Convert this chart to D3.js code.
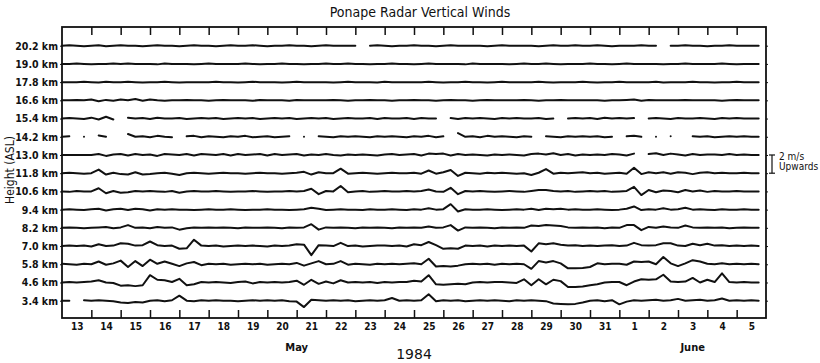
<!DOCTYPE html>
<html>
<head>
<meta charset="utf-8">
<script src="https://cdn.jsdelivr.net/npm/d3@7"></script>
<style>
  body { margin: 0; background: #fff; }
  text { fill: #111; font-family: "Liberation Sans Narrow", "DejaVu Sans Condensed", sans-serif; }
</style>
</head>
<body>
<div id="chart"></div>
<script>
// Heights of the radar range gates (km, ASL), top to bottom
const heights = [20.2, 19.0, 17.8, 16.6, 15.4, 14.2, 13.0, 11.8, 10.6, 9.4, 8.2, 7.0, 5.8, 4.6, 3.4];

// Day labels along the bottom (13 May .. 5 June 1984)
const dayLabels = ["13","14","15","16","17","18","19","20","21","22","23","24","25","26","27","28","29","30","31","1","2","3","4","5"];
const monthLabels = [{ name: "May", day: "1984-05-21T00:00Z" }, { name: "June", day: "1984-06-03T12:00Z" }];
const yearLabel = "1984";

const startDate = new Date(Date.UTC(1984, 4, 13));
const endDate = new Date(Date.UTC(1984, 5, 6));
const hoursPerSample = 6;

// Vertical wind (m/s, upward positive), one value every 6 h, null = no data
const w20_2 = [0,.05,0,-.05, 0,.05,-.05,0, .05,0,0,-.05, 0,.05,0,0, -.05,0,.05,0, 0,-.05,0,.05, 0,0,.05,0, -.05,0,0,.05,
  0,0,-.05,0, .05,0,0,0, 0,null,0,.05, 0,-.05,0,0, .05,0,0,-.05, 0,.05,0,0, 0,0,-.05,0, .05,0,0,0,
  0,-.05,0,.05, 0,0,.05,0, 0,.05,0,-.05, 0,0,0,.05, 0,0,null,0, 0,.05,0,0, -.05,0,0,.05, 0,0,0,0];
const w19_0 = [0,0,.05,0, -.05,0,0,.05, 0,.05,0,0, 0,-.05,.05,0, 0,0,-.05,0, .05,0,0,0, 0,.05,0,-.05, 0,0,.05,0,
  0,-.05,0,0, .05,0,0,.05, 0,0,-.05,0, 0,.05,0,0, -.05,0,.05,0, 0,0,0,-.05, .05,0,0,0, 0,-.05,0,.05,
  0,0,.05,0, -.05,0,0,0, .05,0,0,-.05, 0,.05,0,0, 0,0,-.05,0, 0,.05,0,0, 0,0,.05,0, -.05,0,0,0];
const w17_8 = [0,0,0,.05, 0,-.05,.05,0, 0,.05,0,-.05, 0,0,.05,0, -.05,0,0,0, 0,.05,0,0, -.05,0,.05,0, 0,0,-.05,0,
  .05,0,0,0, 0,-.05,0,.05, 0,0,0,-.05, .05,0,0,0, 0,0,.05,0, -.05,0,0,.05, 0,0,-.05,0, .05,0,0,0,
  0,.05,0,-.05, 0,0,0,.05, 0,-.05,0,0, .05,0,0,0, 0,.05,-.05,0, 0,0,.05,0, 0,-.05,0,0, .05,0,0,0];
const w16_6 = [0,0,.05,0, .1,-.1,.05,-.05, .1,0,.15,-.05, .1,0,-.05,0, 0,.05,0,0, -.05,0,.05,0, 0,0,-.05,.05, 0,0,0,-.05,
  .05,0,0,0, 0,.05,0,-.05, 0,0,.05,0, 0,-.05,0,0, .05,0,0,-.05, 0,.05,0,0, -.05,0,.05,0, 0,0,0,.05,
  0,-.05,0,0, .05,0,0,0, 0,0,-.05,0, 0,.05,.1,-.05, .05,0,0,0, 0,.05,0,0, 0,0,-.05,0, .05,0,0,0];
const w15_4 = [0,.05,0,-.05, .1,-.1,.2,-.1, null,.1,0,.05, -.05,.1,0,0, .05,-.05,0,.05, 0,.05,-.05,0, .05,0,.05,-.05, 0,.05,0,.05,
  -.05,0,.05,0, .05,-.05,0,.05, 0,0,.05,-.05, .05,0,0,.05, -.05,.05,0,0, null,.05,-.05,.05, 0,.05,0,-.05, .05,0,.05,0,
  0,.05,-.05,0, null,0,.05,0, .05,-.05,.1,0, .05,0,.05,null, 0,.05,0,-.05, .05,0,0,.05, 0,-.05,.05,0, .05,0,0,0];
const w14_2 = [0,.05,null,0, null,.15,0,null, null,.3,0,.05, -.05,.1,0,-.05, null,.05,.1,-.05, .05,0,-.05,.05, 0,.1,-.05,0, .05,-.05,0,.05,
  null,0,null,.05, 0,-.05,.05,0, .05,0,-.05,.05, 0,.05,0,-.05, .05,0,.1,-.05, .05,null,.4,0, .05,-.05,.1,0, .05,0,-.05,.05,
  0,null,.05,0, -.05,.05,0,.05, 0,.05,-.05,0, null,.05,.1,0, null,0,null,.05, null,null,.05,0, .05,-.05,0,.05, 0,.05,0,0];
const w13_0 = [0,0,0,0, 0,.1,-.1,.05, .1,-.05,.1,0, .05,-.1,.1,.05, 0,.1,-.05,.1, .05,0,.1,-.05, .1,0,.05,.1, -.05,.1,0,.05,
  .1,-.05,.05,0, .1,0,-.05,.05, 0,.05,0,-.05, .05,.1,0,.05, .1,-.05,.15,.1, .15,-.05,.1,0, .05,0,-.05,.05, 0,.05,0,-.05,
  .1,.15,.05,.2, 0,.1,-.05,.05, 0,.05,0,.1, .05,-.05,.15,null, .1,.2,0,.15, .05,-.05,.1,0, .05,.05,0,.1, 0,.05,0,0];
const w11_8 = [0,.05,0,-.05, 0,.4,-.15,.05, -.1,-.15,.1,-.15, -.1,0,.05,-.05, -.2,0,.05,0, -.05,0,.05,0, 0,-.05,0,.05, 0,0,-.05,0,
  .05,.15,-.15,.1, 0,0,.5,-.05, 0,.05,0,-.05, 0,.05,0,0, .05,-.05,.3,-.05, .1,.35,-.3,.05, 0,-.05,.05,0, .05,0,-.05,0,
  -.2,.05,.45,-.05, .05,0,.05,.1, 0,.05,-.05,0, .05,-.05,.6,-.1, .1,0,.1,-.05, .1,.05,-.1,.05, .1,0,.05,0, 0,.05,0,0];
const w10_6 = [0,-.05,.05,0, 0,.35,-.2,.05, -.15,-.1,.05,0, .05,0,-.05,.05, -.15,0,.05,0, 0,.05,0,-.05, 0,0,.05,0, -.05,0,0,.05,
  0,.05,.3,-.3, .05,0,.6,-.1, 0,.05,-.05,0, .05,0,0,.05, 0,.05,.2,0, -.05,.4,-.3,.05, 0,.05,0,-.05, 0,.05,0,-.05,
  .05,.15,.15,.05, 0,.05,-.05,0, .05,0,.05,-.05, 0,.05,.5,-.4, .15,-.1,.1,.05, -.1,.15,0,.1, -.05,.05,0,0, .05,0,0,0];
const w9_4 = [0,.05,0,-.05, .05,.1,-.1,.05, .1,-.05,.1,.05, -.1,.05,0,.05, 0,0,-.05,0, .05,0,0,.05, 0,-.05,0,0, .05,0,0,-.05,
  0,.05,.2,.1, -.05,0,.05,0, 0,-.05,.05,0, 0,.05,0,-.05, .05,0,.15,0, .05,.6,-.2,.05, 0,0,.05,0, -.05,0,.05,0,
  .1,-.05,.1,.05, .1,0,.05,0, 0,.05,0,-.05, 0,.1,.35,-.05, .05,0,.15,0, .05,.2,0,.05, 0,-.05,.05,0, 0,.05,0,0];
const w8_2 = [0,.05,0,-.05, 0,.05,.1,-.05, .05,.3,0,.05, -.05,.1,0,.05, -.2,-.05,.05,0, .05,0,.05,0, -.05,.05,0,0, .05,0,-.05,.05,
  0,.05,.4,-.2, .05,0,.05,0, -.05,.05,0,.05, 0,-.05,.05,0, .05,0,.15,0, .05,.3,-.3,.05, 0,.05,0,-.05, .05,0,.05,0,
  .25,.2,.3,.25, .2,.05,0,.05, 0,.05,-.05,.05, 0,.3,.3,-.25, .1,0,.15,.05, 0,.25,.05,0, .05,0,.05,-.05, 0,.05,0,0];
const w7_0 = [0,.05,0,.05, -.05,.2,0,.05, .3,.25,.05,.1, .5,.1,0,.05, -.3,-.25,.7,.05, 0,.05,-.05,0, .05,0,.05,0, -.05,.05,0,.05,
  .2,.15,-1.0,.1, .05,0,.35,0, .05,-.05,0,.05, .05,0,.05,-.05, .2,.1,.45,.1, -.3,-.25,-.3,.05, 0,.05,-.05,.05, 0,.05,0,.05,
  -.6,.3,.2,.3, .15,.05,.1,0, .05,0,.05,.1, 0,.05,.35,.1, .05,.1,.3,.3, .05,0,.25,.1, .25,.05,.1,0, .05,0,.05,0];
const w5_8 = [.05,0,-.05,.05, 0,.3,-.05,.1, .4,-.3,.35,-.2, .5,.05,.3,.05, -.2,.1,.25,-.1, .05,0,.05,-.05, 0,.05,0,.05, -.05,0,.05,0,
  .15,-.15,.1,.35, 0,.05,.35,-.05, .05,0,-.05,.05, 0,.05,0,.05, .1,0,.6,-.25, -.2,-.25,-.15,0, .05,0,.05,-.05, .05,0,.05,0,
  -.5,.35,.2,.35, .1,-.45,-.45,-.4, -.3,.1,0,.05, .05,-.05,.3,.25, .3,0,.8,.1, -.2,.1,.45,.3, .05,0,.1,0, .05,0,.05,0];
const w4_6 = [0,.05,0,.05, .1,.25,0,-.05, -.35,-.3,-.4,-.3, .8,.3,.25,.05, .4,-.3,-.2,.05, 0,.05,0,-.05, .05,.1,-.1,.05, 0,.05,0,.05,
  .2,-.25,.3,-.15, .1,-.1,.25,0, .05,0,.05,-.05, .05,0,.05,.05, .2,.1,.8,-.2, -.25,-.2,-.15,-.2, 0,.05,0,.05, .05,0,-.05,.35,
  -.3,.35,-.2,.3, .15,-.5,-.5,-.45, -.3,-.2,0,.05, .05,-.3,.1,.35, .3,.35,.85,.1, .05,.1,.5,0, .3,.05,1.0,.05, 0,.05,0,0];
const w3_4 = [0,0,null,.05, 0,.05,0,-.05, -.2,-.25,-.15,-.2, 0,.05,-.05,.05, .55,0,-.05,.05, 0,.05,0,0, -.05,0,.05,0, .05,0,.05,-.05,
  -.1,-.7,.1,.05, 0,.05,0,.05, -.05,0,.05,0, .05,.3,0,.05, 0,.05,.7,-.05, .05,0,.05,-.05, 0,.05,0,.05, 0,-.05,.05,0,
  .05,0,-.05,-.3, -.35,-.4,-.35,-.2, 0,.05,-.05,.05, -.4,-.1,.05,0, .05,.1,0,.05, .2,0,.05,.1, 0,.05,.25,0, .05,0,.05,0];

const winds = [w20_2, w19_0, w17_8, w16_6, w15_4, w14_2, w13_0, w11_8, w10_6, w9_4, w8_2, w7_0, w5_8, w4_6, w3_4];
const scaleBarMs = 2;

const W = 820, H = 363;
const plot = { left: 62, right: 766, top: 27, bottom: 318 };

const svg = d3.select("#chart").append("svg")
    .attr("width", W)
    .attr("height", H);

const x = d3.scaleUtc().domain([startDate, endDate]).range([plot.left, plot.right]);
const y = d3.scaleLinear().domain([3.4, 20.2]).range([300.7, 45.7]);
// 2 m/s spans the distance between two neighbouring rows
const w = d3.scaleLinear().domain([0, scaleBarMs]).range([0, y(11.8) - y(13.0)]);

const dayStarts = d3.utcDay.range(startDate, endDate);
const inner = dayStarts.slice(1);
const noons = dayStarts.map(d => d3.utcHour.offset(d, 12));

// traces
const line = d3.line()
    .defined(d => d.v !== null)
    .x(d => x(d.t))
    .y(d => y(d.h) - w(d.v));

heights.forEach((h, k) => {
    const pts = winds[k].map((v, i) => ({ t: d3.utcHour.offset(startDate, i * hoursPerSample), v: v, h: h }));
    svg.append("path")
        .datum(pts)
        .attr("fill", "none")
        .attr("stroke", "#111")
        .attr("stroke-width", 2)
        .attr("stroke-linecap", "round")
        .attr("stroke-linejoin", "round")
        .attr("d", line);
});

// frame
svg.append("rect")
    .attr("x", plot.left).attr("y", plot.top)
    .attr("width", plot.right - plot.left).attr("height", plot.bottom - plot.top)
    .attr("fill", "none").attr("stroke", "#111").attr("stroke-width", 1.8);

// day boundary ticks, top and bottom
svg.append("g")
    .attr("transform", "translate(0," + plot.top + ")")
    .call(d3.axisTop(x).tickValues(inner).tickSize(-8).tickFormat(""))
    .call(g => g.select(".domain").remove())
    .call(g => g.selectAll("line").attr("stroke", "#111").attr("stroke-width", 1.5));

svg.append("g")
    .attr("transform", "translate(0," + plot.bottom + ")")
    .call(d3.axisBottom(x).tickValues(inner).tickSize(-8).tickFormat(""))
    .call(g => g.select(".domain").remove())
    .call(g => g.selectAll("line").attr("stroke", "#111").attr("stroke-width", 1.5));

// day labels
svg.append("g")
    .attr("transform", "translate(0," + plot.bottom + ")")
    .call(d3.axisBottom(x).tickValues(noons).tickSize(0).tickPadding(5).tickFormat((d, i) => dayLabels[i]))
    .call(g => g.select(".domain").remove())
    .call(g => g.selectAll("text").style("font-size", "10px").style("font-weight", "bold"));

// height labels
svg.append("g")
    .attr("transform", "translate(" + plot.left + ",0)")
    .call(d3.axisLeft(y).tickValues(heights).tickSize(2).tickPadding(2).tickFormat(d => d.toFixed(1) + " km"))
    .call(g => g.select(".domain").remove())
    .call(g => g.selectAll("line").attr("stroke", "#111"))
    .call(g => g.selectAll("text").style("font-size", "10.5px").style("font-weight", "bold"));

svg.append("g")
    .attr("transform", "translate(" + plot.right + ",0)")
    .call(d3.axisRight(y).tickValues(heights).tickSize(2).tickFormat(""))
    .call(g => g.select(".domain").remove())
    .call(g => g.selectAll("line").attr("stroke", "#111"));

// month and year labels
svg.selectAll(".month")
    .data(monthLabels)
    .enter().append("text")
    .attr("class", "month")
    .attr("x", d => x(new Date(d.day)))
    .attr("y", 351)
    .attr("text-anchor", "middle")
    .style("font-size", "11px")
    .style("font-weight", "bold")
    .text(d => d.name);

svg.append("text")
    .attr("x", 414)
    .attr("y", 359)
    .attr("text-anchor", "middle")
    .style("font-size", "14px")
    .style("font-family", "'DejaVu Sans', sans-serif")
    .text(yearLabel);

// title
svg.append("text")
    .attr("x", 420)
    .attr("y", 17)
    .attr("text-anchor", "middle")
    .style("font-size", "14px")
    .style("font-family", "'DejaVu Sans Condensed', sans-serif")
    .text("Ponape Radar Vertical Winds");

// y axis title
svg.append("text")
    .attr("transform", "translate(14,170) rotate(-90)")
    .attr("text-anchor", "middle")
    .style("font-size", "12px")
    .style("font-family", "'DejaVu Sans Condensed', sans-serif")
    .text("Height (ASL)");

// scale bar: 2 m/s upwards
const sbX = plot.right + 6;
const sbTop = y(13.0), sbBot = y(13.0) + w(scaleBarMs);
const bar = svg.append("g").attr("stroke", "#111").attr("stroke-width", 1.2);
bar.append("line").attr("x1", sbX).attr("x2", sbX).attr("y1", sbTop).attr("y2", sbBot);
bar.append("line").attr("x1", sbX - 3).attr("x2", sbX + 3).attr("y1", sbTop).attr("y2", sbTop);
bar.append("line").attr("x1", sbX - 3).attr("x2", sbX + 3).attr("y1", sbBot).attr("y2", sbBot);

svg.append("text")
    .attr("x", sbX + 7).attr("y", sbTop + 5)
    .style("font-size", "10px")
    .style("font-family", "'DejaVu Sans Condensed', sans-serif")
    .text(scaleBarMs + " m/s");
svg.append("text")
    .attr("x", sbX + 7).attr("y", sbTop + 15)
    .style("font-size", "10px")
    .style("font-family", "'DejaVu Sans Condensed', sans-serif")
    .text("Upwards");
</script>
</body>
</html>
